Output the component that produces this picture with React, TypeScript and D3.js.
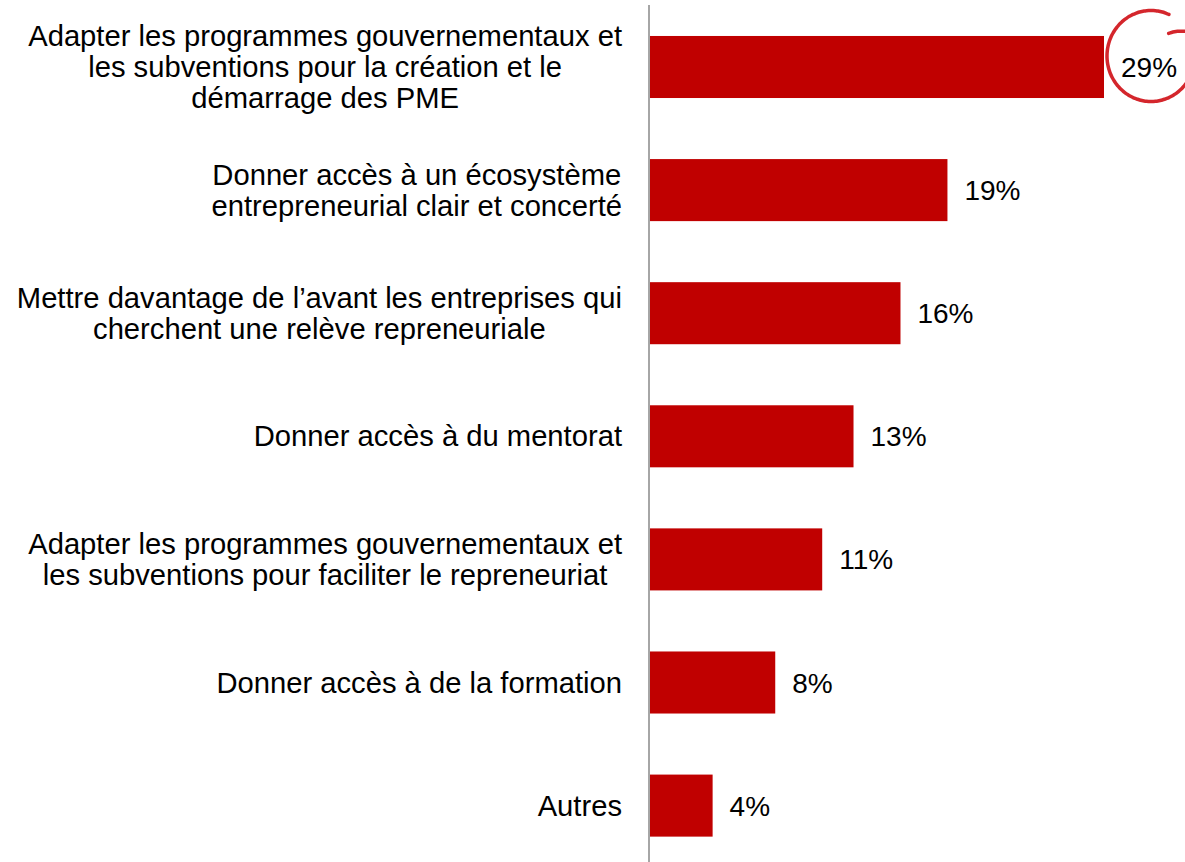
import React from "react";
import * as d3 from "d3";

const categories: string[][] = [
  ["Adapter les programmes gouvernementaux et", "les subventions pour la création et le", "démarrage des PME"],
  ["Donner accès à un écosystème", "entrepreneurial clair et concerté"],
  ["Mettre davantage de l’avant les entreprises qui", "cherchent une relève repreneuriale"],
  ["Donner accès à du mentorat"],
  ["Adapter les programmes gouvernementaux et", "les subventions pour faciliter le repreneuriat"],
  ["Donner accès à de la formation"],
  ["Autres"],
];
const values: number[] = [29, 19, 16, 13, 11, 8, 4];
const valueLabels: string[] = ["29%", "19%", "16%", "13%", "11%", "8%", "4%"];
const highlighted = 0;

const W = 1185;
const H = 862;
const FONT = "'Liberation Sans', Arial, Helvetica, sans-serif";
const LABEL_SIZE = 29.2;

let ctx: CanvasRenderingContext2D | null = null;
function measure(s: string): number {
  if (!ctx) ctx = document.createElement("canvas").getContext("2d");
  if (!ctx) return s.length * LABEL_SIZE * 0.5;
  ctx.font = `${LABEL_SIZE}px ${FONT}`;
  return ctx.measureText(s).width;
}

export default function App() {
  const keys = categories.map((_, i) => String(i));
  const y = d3
    .scaleBand<string>()
    .domain(keys)
    .range([5.2, 867.4])
    .paddingInner(0.496)
    .paddingOuter(0.25);
  const x = d3.scaleLinear().domain([0, 29]).range([650, 1104]);

  // hand-drawn style annotation ring around highlighted label
  const hv = values[highlighted];
  const cx = x(hv) + 47;
  const cy = (y(String(highlighted)) as number) + y.bandwidth() / 2 - 11;
  const rx = 44;
  const ry = 45.5;
  const rf = (t: number) => (t < -392 ? 1 - ((-392 - t) / 20) * 0.38 : 1);
  const thetas = d3.range(-66, -412, -3);
  const ring = d3
    .line<number>()
    .x((t) => cx + rx * rf(t) * Math.cos((t * Math.PI) / 180))
    .y((t) => cy + ry * rf(t) * Math.sin((t * Math.PI) / 180))
    .curve(d3.curveCatmullRom)(thetas);

  return (
    <svg
      width={W}
      height={H}
      style={{ position: "absolute", left: 0, top: 0, background: "#fff" }}
      fontFamily={FONT}
    >
      <rect x={0} y={0} width={W} height={H} fill="#fff" />
      {categories.map((lines, i) => {
        const yc = (y(String(i)) as number) + y.bandwidth() / 2;
        const maxW = Math.max(...lines.map(measure));
        const tx = 622 - maxW / 2;
        return (
          <g key={i}>
            <rect
              x={x(0)}
              y={y(String(i))}
              width={x(values[i]) - x(0)}
              height={y.bandwidth()}
              fill="#C00000"
            />
            <text textAnchor="middle" fontSize={LABEL_SIZE} fill="#000">
              {lines.map((ln, j) => (
                <tspan key={j} x={tx} y={yc + 10 + (j - (lines.length - 1) / 2) * 31}>
                  {ln}
                </tspan>
              ))}
            </text>
            <text x={x(values[i]) + 17} y={yc + 10} fontSize={28} fill="#000">
              {valueLabels[i]}
            </text>
          </g>
        );
      })}
      <line x1={649} x2={649} y1={5} y2={H} stroke="#a6a6a6" strokeWidth={2} />
      <path
        d={ring || ""}
        fill="none"
        stroke="#d4262c"
        strokeWidth={3.5}
        strokeLinecap="round"
        strokeLinejoin="round"
      />
    </svg>
  );
}
